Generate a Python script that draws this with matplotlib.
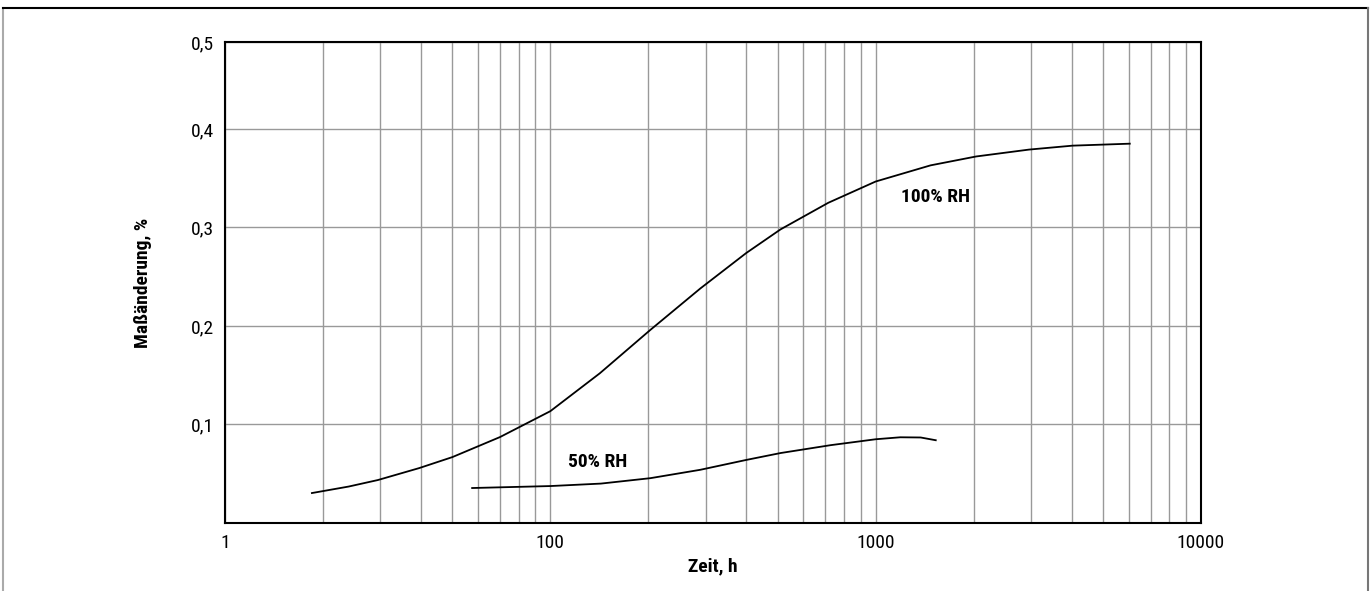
import matplotlib
matplotlib.use("Agg")
import matplotlib.pyplot as plt
from matplotlib import font_manager
from matplotlib.lines import Line2D
from matplotlib.ticker import LogLocator, NullFormatter

# schmale Schrift, falls vorhanden
installed = {f.name for f in font_manager.fontManager.ttflist}
for name in ["Liberation Sans Narrow", "Roboto Condensed", "DejaVu Sans Condensed", "Liberation Sans"]:
    if name in installed:
        plt.rcParams['font.family'] = [name, 'DejaVu Sans']
        break

# 100% RH, Zeit in h / Maßänderung in %
rh100_t = [18.5, 24, 29.5, 39.5, 50, 70, 100, 142, 203, 289, 400, 510, 715, 1000, 1475, 2035, 2960, 4030, 6040]
rh100_d = [0.0304, 0.037, 0.0436, 0.0557, 0.0669, 0.0872, 0.1135, 0.152, 0.196, 0.238, 0.274, 0.298, 0.325,
           0.3466, 0.363, 0.372, 0.379, 0.383, 0.385]

# 50% RH
rh50_t = [57.5, 100, 143, 203, 289, 400, 510, 727, 1000, 1190, 1375, 1530]
rh50_d = [0.0355, 0.0375, 0.0400, 0.0455, 0.0540, 0.0640, 0.0710, 0.0790, 0.0850, 0.0870, 0.0868, 0.0840]

x_ticks = [10, 100, 1000, 10000]
x_labels = ["1", "100", "1000", "10000"]
y_top = 0.4882
y_ticks = [0.1, 0.2, 0.3, 0.4, y_top]
y_labels = ["0,1", "0,2", "0,3", "0,4", "0,5"]

fig = plt.figure(figsize=(13.72, 5.91), dpi=100)
ax = fig.add_axes([225 / 1372, 1 - 523 / 591, (1201 - 225) / 1372, (523 - 42) / 591])

ax.plot(rh100_t, rh100_d, color="black", lw=1.3)
ax.plot(rh50_t, rh50_d, color="black", lw=1.3)

ax.set_xscale("log")
ax.set_xlim(10, 10000)
ax.set_ylim(0, y_top)
ax.set_xticks(x_ticks)
ax.set_xticklabels(x_labels)
ax.xaxis.set_minor_locator(LogLocator(base=10, subs=range(2, 10)))
ax.xaxis.set_minor_formatter(NullFormatter())
ax.set_yticks(y_ticks)
ax.set_yticklabels(y_labels)
ax.tick_params(which="both", length=0, labelsize=14, pad=8)

ax.grid(True, which="both", axis="x", color="#999999", lw=1)
ax.grid(True, which="major", axis="y", color="#999999", lw=1)
for s in ax.spines.values():
    s.set_linewidth(1.5)

ax.set_xlabel("Zeit, h", fontsize=14, fontweight="bold", labelpad=4)
ax.set_ylabel("Maßänderung, %", fontsize=14, fontweight="bold", labelpad=28)

ax.text(1530, 0.331, "100% RH", fontsize=14, fontweight="bold", ha="center", va="center")
ax.text(140, 0.062, "50% RH", fontsize=14, fontweight="bold", ha="center", va="center")

# Rahmen um die Grafik
x0, x1, y1 = 3 / 1372, 1368 / 1372, 1 - 8 / 591
fig.add_artist(Line2D([x0, x0], [0, y1], transform=fig.transFigure, color="#aaaaaa", lw=1.5))
fig.add_artist(Line2D([x0, x1], [y1, y1], transform=fig.transFigure, color="black", lw=1.5))
fig.add_artist(Line2D([x1, x1], [0, y1], transform=fig.transFigure, color="#777777", lw=1.5))

fig.savefig("out.png", dpi=100)
